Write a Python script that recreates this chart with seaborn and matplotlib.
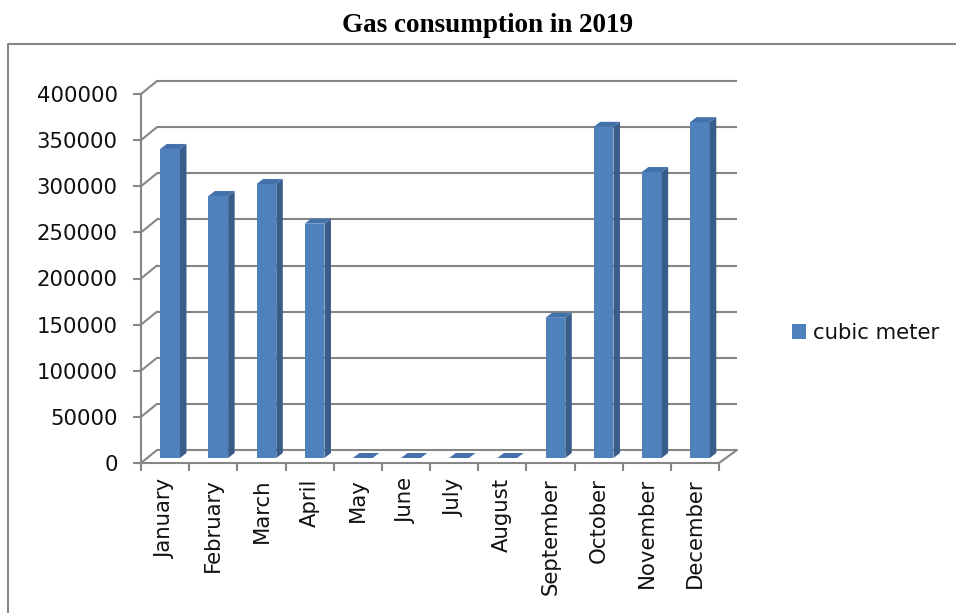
import matplotlib
matplotlib.use("Agg")
import matplotlib.pyplot as plt
import pandas as pd
import seaborn as sns
from matplotlib.patches import Polygon, Patch
from matplotlib.lines import Line2D

# Data
months = ["January", "February", "March", "April", "May", "June",
          "July", "August", "September", "October", "November", "December"]
cubic_meter = [335000, 284000, 297000, 254000, 0, 0, 0, 0,
               152000, 359000, 310000, 364000]
y_ticks = [0, 50000, 100000, 150000, 200000, 250000, 300000, 350000, 400000]

# Excel-like colours
front_col = "#4f81bd"
side_col = "#385d8a"
top_col = "#4371aa"
grid_col = "#868686"

W, H = 956, 613
sns.set_style("white")
plt.rcParams["font.family"] = ["DejaVu Sans"]

fig = plt.figure(figsize=(W / 100, H / 100), dpi=100)

# front plane of the 3D box, in pixels
left_px, right_px, top_px, base_px = 141, 719, 94, 463
ax = fig.add_axes([left_px / W, (H - base_px) / H,
                   (right_px - left_px) / W, (base_px - top_px) / H])
ax.patch.set_alpha(0)

df = pd.DataFrame({"month": months, "cubic meter": cubic_meter})
sns.barplot(data=df, x="month", y="cubic meter", color=front_col,
            saturation=1, width=0.41, ax=ax, zorder=3, linewidth=0)
ax.set_xlim(-0.5, len(months) - 0.5)
ax.set_ylim(0, y_ticks[-1])

# data units per pixel
ux = len(months) / (right_px - left_px)
uy = y_ticks[-1] / (base_px - top_px)

# back wall gridlines + side wall diagonals
back_dx_l, back_dx_r, back_dy = 16 * ux, 18 * ux, 13 * uy
for v in y_ticks:
    ax.plot([-0.5 + back_dx_l, len(months) - 0.5 + back_dx_r], [v + back_dy, v + back_dy],
            color=grid_col, lw=1.5, clip_on=False, zorder=1, solid_capstyle="butt")
    ax.plot([-0.5, -0.5 + back_dx_l], [v, v + back_dy],
            color=grid_col, lw=1.5, clip_on=False, zorder=1)
ax.plot([len(months) - 0.5, len(months) - 0.5 + back_dx_r], [0, back_dy],
        color=grid_col, lw=1.5, clip_on=False, zorder=1)

# turn flat bars into 3D columns
off_x, off_y = 5 * ux, 5 * uy
dep_x, dep_y = 6.5 * ux, 5 * uy
for bar in ax.patches[:len(months)]:
    bar.set_x(bar.get_x() + off_x)
    bar.set_y(off_y)
    x0 = bar.get_x()
    x1 = x0 + bar.get_width()
    y0 = bar.get_y()
    y1 = y0 + bar.get_height()
    side = Polygon([(x1, y0), (x1, y1), (x1 + dep_x, y1 + dep_y), (x1 + dep_x, y0 + dep_y)],
                   closed=True, facecolor=side_col, edgecolor="none", zorder=3, clip_on=False)
    top = Polygon([(x0, y1), (x1, y1), (x1 + dep_x, y1 + dep_y), (x0 + dep_x, y1 + dep_y)],
                  closed=True, facecolor=top_col, edgecolor="none", zorder=3, clip_on=False)
    ax.add_patch(side)
    ax.add_patch(top)

# axes styling
for s in ["top", "right"]:
    ax.spines[s].set_visible(False)
for s in ["left", "bottom"]:
    ax.spines[s].set_color(grid_col)
    ax.spines[s].set_linewidth(1.5)
ax.set_yticks(y_ticks)
ax.set_yticklabels([str(v) for v in y_ticks])
ax.set_xticks(range(len(months)))
ax.set_xticklabels(months, rotation=90)
ax.set_xticks([i - 0.5 for i in range(len(months) + 1)], minor=True)
ax.tick_params(axis="y", which="major", direction="out", length=5.8, width=1.5,
               color=grid_col, labelsize=15.3, pad=11, left=True, labelcolor="#111111")
ax.tick_params(axis="x", which="major", length=0, labelsize=15.3, pad=11,
               labelcolor="#111111")
ax.tick_params(axis="x", which="minor", direction="out", length=5.8, width=1.5,
               color=grid_col, bottom=True)
ax.set_xlabel("")
ax.set_ylabel("")

# legend
ax.legend(handles=[Patch(facecolor=front_col, edgecolor="none")], labels=["cubic meter"],
          loc="center left", bbox_to_anchor=(792 / W, (H - 333) / H),
          bbox_transform=fig.transFigure, frameon=False, fontsize=15.3,
          handlelength=0.65, handleheight=0.65, handletextpad=0.35,
          borderpad=0, borderaxespad=0, labelcolor="#111111")

# title
fig.text(488 / W, 1 - 26 / H, "Gas consumption in 2019", ha="center", va="center",
         family="Liberation Serif", fontweight="bold", fontsize=19.5, color="black")

# chart area border (left and top only are visible in the crop)
fig.add_artist(Line2D([8 / W, 8 / W, 1], [0, 1 - 44 / H, 1 - 44 / H],
                      transform=fig.transFigure, color=grid_col, lw=1.5))

fig.savefig("out.png", dpi=100)
